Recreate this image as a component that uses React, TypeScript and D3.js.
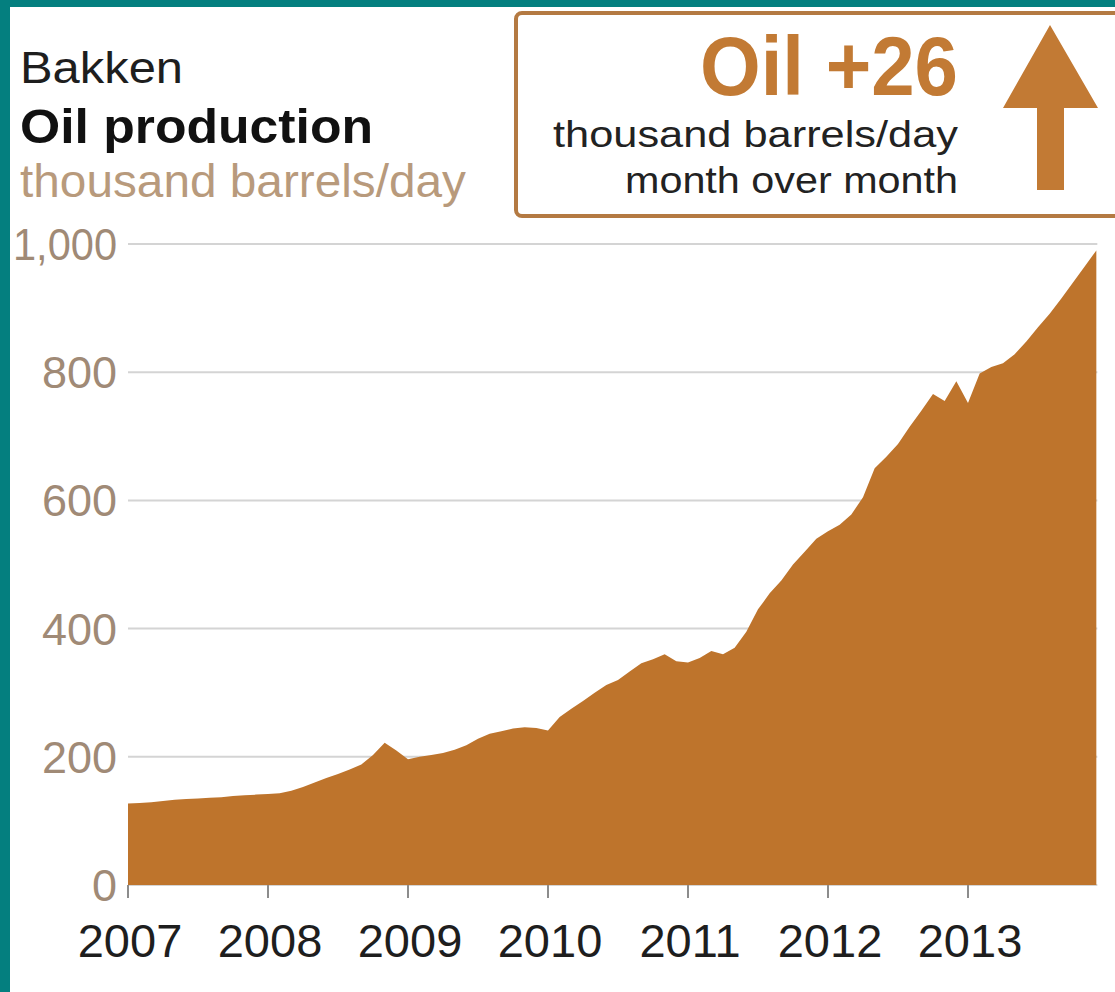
import React from 'react';
import * as d3 from 'd3';

const startYear = 2007;
// Monthly Bakken oil production, thousand barrels/day, Jan 2007 – Dec 2013
const production = [
  127, 128, 129, 131, 133, 134, 135, 136, 137, 139, 140, 141,
  142, 143, 147, 153, 160, 167, 173, 180, 188, 203, 222, 210,
  196, 200, 203, 206, 211, 218, 228, 236, 240, 244, 246, 245,
  241, 262, 275, 287, 300, 312, 320, 333, 346, 352, 360, 349,
  347, 354, 365, 360, 370, 395, 430, 455, 475, 500, 520, 540,
  552, 562, 578, 605, 650, 668, 688, 715, 740, 766, 755, 786,
  752, 798, 808, 814, 828, 848, 870, 891, 915, 940, 965, 990,
];
const yTicks = [0, 200, 400, 600, 800, 1000];
const xTickYears = [2007, 2008, 2009, 2010, 2011, 2012, 2013];
const titleLines = ['Bakken', 'Oil production', 'thousand barrels/day'];
const calloutLines = ['Oil +26', 'thousand barrels/day', 'month over month'];

export default function App() {
  const W = 1115;
  const H = 992;
  const x = d3.scaleLinear().domain([2007, 2014]).range([128, 1108]);
  const y = d3.scaleLinear().domain([0, 1000]).range([885, 244]);
  const pts = production.map((v, i) => ({ t: startYear + i / 12, v }));
  const lastT = pts[pts.length - 1].t;
  const area = d3
    .area<{ t: number; v: number }>()
    .x((d) => x(d.t))
    .y0(y(0))
    .y1((d) => y(d.v));
  const fmt = d3.format(',');
  const font = 'Liberation Sans, Arial, sans-serif';
  const brown = '#be742c';

  return (
    <svg
      width={W}
      height={H}
      style={{ position: 'absolute', left: 0, top: 0, display: 'block' }}
      fontFamily={font}
    >
      <rect x={0} y={0} width={W} height={H} fill="#047f7f" />
      <rect x={10} y={7} width={W - 10} height={H - 7} fill="#ffffff" />

      {/* gridlines */}
      {yTicks.map((t) => (
        <line
          key={'g' + t}
          x1={x(2007)}
          x2={x(lastT) + 1}
          y1={y(t)}
          y2={y(t)}
          stroke="#d4d4d4"
          strokeWidth={2}
        />
      ))}

      {/* area */}
      <path d={area(pts) || ''} fill={brown} />

      {/* x ticks */}
      {xTickYears.map((yr) => (
        <g key={'x' + yr}>
          <line x1={x(yr)} x2={x(yr)} y1={y(0)} y2={y(0) + 13} stroke="#8c8c8c" strokeWidth={2} />
          <text
            x={x(yr) + 2}
            y={957}
            textAnchor="middle"
            fontSize={47}
            fill="#1e1e1e"
          >
            {yr}
          </text>
        </g>
      ))}

      {/* y labels */}
      {yTicks.map((t) => {
        const label = fmt(t);
        const extra = label.includes(',') ? { textLength: 104, lengthAdjust: 'spacingAndGlyphs' } : {};
        return (
          <text
            key={'y' + t}
            x={117}
            y={y(t) + 16}
            textAnchor="end"
            fontSize={45}
            fill="#a08a76"
            {...extra}
          >
            {label}
          </text>
        );
      })}

      {/* titles */}
      <text x={20} y={83} fontSize={45} fill="#1e1e1e" textLength={163} lengthAdjust="spacingAndGlyphs">
        {titleLines[0]}
      </text>
      <text x={20} y={143} fontSize={49} fontWeight="bold" fill="#111111" textLength={353} lengthAdjust="spacingAndGlyphs">
        {titleLines[1]}
      </text>
      <text x={20} y={197} fontSize={47} fill="#b89a7c" textLength={446} lengthAdjust="spacingAndGlyphs">
        {titleLines[2]}
      </text>

      {/* callout box */}
      <rect
        x={516}
        y={13}
        width={640}
        height={203}
        rx={6}
        ry={6}
        fill="#ffffff"
        stroke="#b47a42"
        strokeWidth={4}
      />
      <text x={958} y={95} textAnchor="end" fontSize={84} fontWeight="bold" fill="#c27a34" textLength={258} lengthAdjust="spacingAndGlyphs">
        {calloutLines[0]}
      </text>
      <text x={958} y={147} textAnchor="end" fontSize={36} fill="#222222" textLength={405} lengthAdjust="spacingAndGlyphs">
        {calloutLines[1]}
      </text>
      <text x={958} y={193} textAnchor="end" fontSize={36} fill="#222222" textLength={333} lengthAdjust="spacingAndGlyphs">
        {calloutLines[2]}
      </text>
      {/* up arrow */}
      <path
        d="M1050,25 L1098,108 L1064,108 L1064,190 L1037,190 L1037,108 L1003,108 Z"
        fill="#c27a34"
      />
    </svg>
  );
}
